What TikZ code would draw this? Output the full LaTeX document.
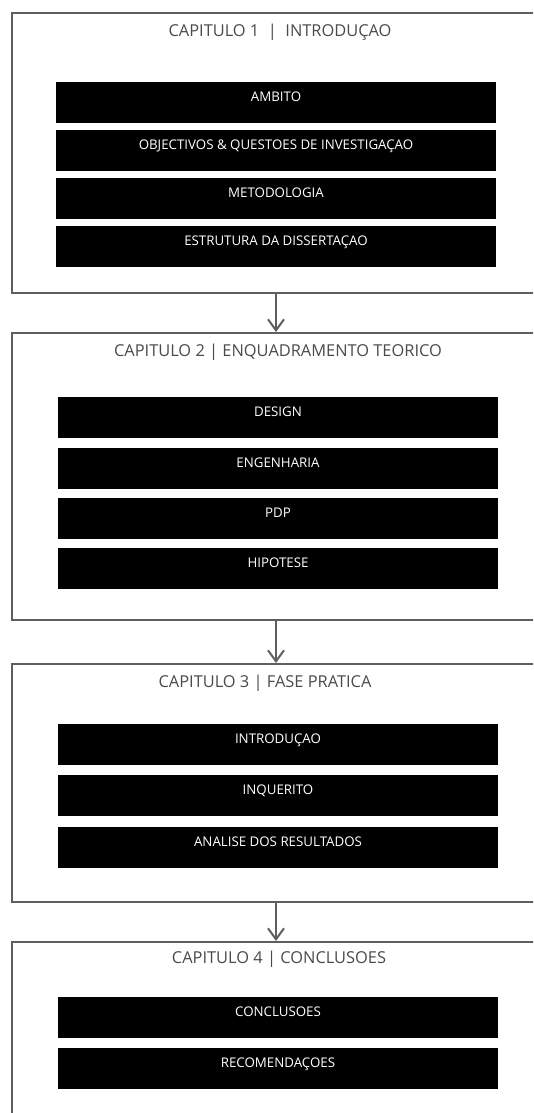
\documentclass[tikz,border=0pt]{standalone}
\usepackage{fontspec}
\setmainfont{Open Sans}
\usetikzlibrary{arrows.meta,positioning}
\definecolor{framegray}{HTML}{5F5F5F}
\definecolor{titlegray}{HTML}{4A4A4A}
\tikzset{
  chap/.style={draw=framegray,line width=2pt,minimum width=528pt,inner sep=0pt,anchor=north}, % chapter frame
  ctitle/.style={text=titlegray,inner sep=0pt,font=\fontsize{16.4}{19}\selectfont},       % chapter heading
  topic/.style={fill=black,text=white,minimum width=440pt,inner xsep=0pt,inner ysep=10.5pt,
    text height=9pt,text depth=11pt,font=\fontsize{13.3}{16}\selectfont},                 % black bar
  flow/.style={-{Straight Barb[length=11pt,width=16pt]},draw=framegray,line width=2pt},
}

\begin{document}
\begin{tikzpicture}[x=1pt,y=-1pt]
  \clip (0,0) rectangle (533,1113);
  \fill[white] (0,0) rectangle (533,1113);

  % chapter 1
  \node[chap,minimum height=280pt] (c1) at (276,12) {};
  \node[ctitle] (h1) at (280,32) {CAPITULO 1 \ | \ INTRODUÇAO};
  \node[topic,anchor=north] (a1) at (276,82) {AMBITO};
  \node[topic,below=6.5pt of a1] (a2) {OBJECTIVOS \& QUESTOES DE INVESTIGAÇAO};
  \node[topic,below=6.5pt of a2] (a3) {METODOLOGIA};
  \node[topic,below=6.5pt of a3] (a4) {ESTRUTURA DA DISSERTAÇAO};

  % chapter 2
  \node[chap,minimum height=287pt] (c2) at (276,332) {};
  \node[ctitle] (h2) at (278,352) {CAPITULO 2 | ENQUADRAMENTO TEORICO};
  \node[topic,anchor=north] (b1) at (278,397) {DESIGN};
  \node[topic,below=9pt of b1] (b2) {ENGENHARIA};
  \node[topic,below=9pt of b2] (b3) {PDP};
  \node[topic,below=9pt of b3] (b4) {HIPOTESE};

  % chapter 3
  \node[chap,minimum height=238pt] (c3) at (276,663) {};
  \node[ctitle] (h3) at (265,683) {CAPITULO 3 | FASE PRATICA};
  \node[topic,anchor=north] (d1) at (278,724) {INTRODUÇAO};
  \node[topic,below=9pt of d1] (d2) {INQUERITO};
  \node[topic,below=11pt of d2] (d3) {ANALISE DOS RESULTADOS};

  % chapter 4
  \node[chap,minimum height=220pt] (c4) at (276,941) {};
  \node[ctitle] (h4) at (279,959) {CAPITULO 4 | CONCLUSOES};
  \node[topic,anchor=north] (e1) at (278,997) {CONCLUSOES};
  \node[topic,below=9pt of e1] (e2) {RECOMENDAÇOES};

  % links
  \draw[flow] (c1.south) -- (c2.north);
  \draw[flow] (c2.south) -- (c3.north);
  \draw[flow] (c3.south) -- (c4.north);
\end{tikzpicture}
\end{document}
